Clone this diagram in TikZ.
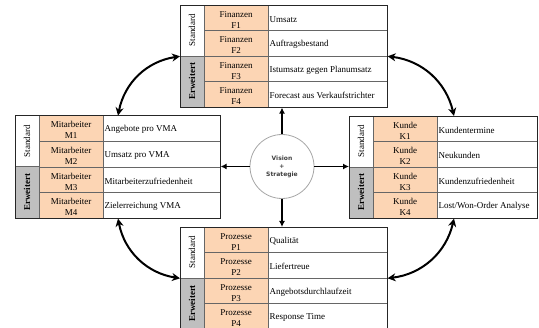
\documentclass[tikz,border=0pt]{standalone}
\usepackage{fontspec}
\setmainfont{Liberation Serif}
\newfontfamily\circfont{DejaVu Sans}
\usetikzlibrary{arrows.meta}
\definecolor{peach}{HTML}{FCD5B4}
\definecolor{ergray}{HTML}{BFBFBF}
\definecolor{circgray}{HTML}{A6A6A6}
\tikzset{
  cellline/.style={draw=black!60, line width=0.9pt},
  catcell/.style={cellline, fill=peach, minimum width=63.5pt, inner sep=0pt},
  cattext/.style={inner sep=0pt, align=center, font=\fontsize{9}{11}\selectfont},
  txtcell/.style={cellline, fill=white, inner sep=0pt},
  txtlabel/.style={inner sep=1pt, font=\fontsize{9}{10.5}\selectfont},
  stdcell/.style={cellline, fill=white, inner sep=0pt, rotate=90, minimum height=24pt, font=\fontsize{9}{10.5}\selectfont},
  ertcell/.style={cellline, fill=ergray, inner sep=0pt, rotate=90, minimum height=24pt, font=\bfseries\fontsize{9}{10.5}\selectfont},
  outerbox/.style={draw=black!85, line width=0.6pt, inner sep=0pt},
  arr/.style={line width=1.2pt, -{Latex[length=6pt,width=6pt]}},
  curv/.style={line width=2pt, {Stealth[length=8pt,width=8pt,inset=2.5pt]}-{Stealth[length=8pt,width=8pt,inset=2.5pt]}}
}
\newcommand\kpitable[8]{%
  \pgfmathsetmacro\kpirh{(#5-#3)/4}%
  \pgfmathsetmacro\kpitw{#4-#2-87.5}%
  \foreach \i/\t in {#8}{%
    \node[catcell, minimum height=\kpirh pt, anchor=north west] (#1c\i) at ({#2+24},{#3+(\i-1)*\kpirh}) {};
    \node[cattext] (#1n\i) at ([yshift=-1.5pt]#1c\i.center) {#6\\#7\i};
    \node[txtcell, minimum width=\kpitw pt, minimum height=\kpirh pt, anchor=north west] (#1t\i) at ({#2+87.5},{#3+(\i-1)*\kpirh}) {};
    \node[txtlabel, anchor=west] (#1x\i) at ([xshift=1pt,yshift=-1pt]#1t\i.west) {\t};
  }
  \node[stdcell, minimum width={2*\kpirh pt}] (#1s) at ({#2+12},{#3+\kpirh}) {Standard};
  \node[ertcell, minimum width={2*\kpirh pt}] (#1e) at ({#2+12},{#3+3*\kpirh}) {Erweitert};
  \node[outerbox, minimum width={(#4-#2)*1pt}, minimum height={(#5-#3)*1pt}, anchor=north west] (#1) at (#2,#3) {};
}
\begin{document}
\begin{tikzpicture}[x=1pt,y=-1pt]
\useasboundingbox (0,0) rectangle (539,328);
\clip (0,0) rectangle (539,328);
\fill[white] (0,0) rectangle (539,328);

\kpitable{Ft}{180}{5}{387}{107}{Finanzen}{F}{1/Umsatz,2/Auftragsbestand,3/Istumsatz gegen Planumsatz,4/Forecast aus Verkaufstrichter}
\kpitable{Mt}{15}{115.5}{220}{218}{Mitarbeiter}{M}{1/Angebote pro VMA,2/Umsatz pro VMA,3/Mitarbeiterzufriedenheit,4/Zielerreichung VMA}
\kpitable{Kt}{349}{116}{537}{218}{Kunde}{K}{1/Kundentermine,2/Neukunden,3/Kundenzufriedenheit,4/{Lost/Won-Order Analyse}}
\kpitable{Pt}{180}{227}{387}{329}{Prozesse}{P}{1/Qualität,2/Liefertreue,3/Angebotsdurchlaufzeit,4/Response Time}

\node[circle, draw=circgray, line width=0.8pt, fill=white, minimum size=64pt, inner sep=0pt, align=center,
      font=\circfont\bfseries\fontsize{6}{8}\selectfont, text=black!75] (circ) at (282,166.5) {Vision\\+\\Strategie};

\draw[arr] (circ.north) -- (circ.north |- Ft.south);
\draw[arr] (circ.south) -- (circ.south |- Pt.north);
\draw[arr] (circ.west) -- (circ.west -| Mt.east);
\draw[arr] (circ.east) -- (circ.east -| Kt.west);

\draw[curv] ([xshift=103pt]Mt.north west) to[bend left=35] (Ft.west);
\draw[curv] (Ft.east) to[bend left=35] ([xshift=105pt]Kt.north west);
\draw[curv] ([xshift=103pt]Mt.south west) to[bend right=35] (Pt.west);
\draw[curv] ([xshift=105pt]Kt.south west) to[bend left=35] (Pt.east);
\end{tikzpicture}
\end{document}
